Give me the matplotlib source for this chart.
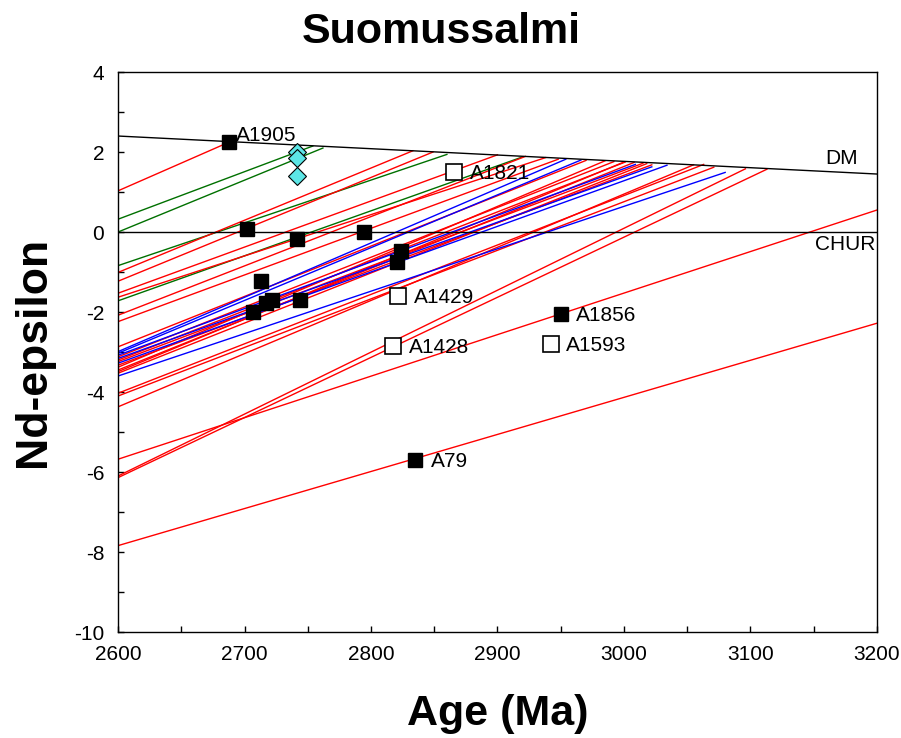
import numpy as np
import matplotlib
matplotlib.use("Agg")
import matplotlib.pyplot as plt
from matplotlib.ticker import MultipleLocator

plt.rcParams["font.family"] = ["Liberation Sans", "DejaVu Sans"]
plt.rcParams["axes.unicode_minus"] = False

# reference lines
dm_x = [2600, 3200]
dm_y = [2.40, 1.45]
chur_y = 0.0

# evolution lines: start at 2600 Ma, end on / near DM
red_y0 = [1.03, -1.01, -1.23, -1.53, -1.63, -2.08, -2.24, -2.87,
          -3.12, -3.20, -3.24, -3.33, -3.38, -3.45, -3.49, -3.53,
          -4.03, -4.10, -4.37, -5.68, -6.10, -6.14, -7.84]
red_x1 = [2688, 2833, 2849, 2900, 2938, 2922, 2948, 2970,
          2992, 3001, 3015, 3022, 2985, 3008, 3000, 3018,
          3063, 3071, 3055, 3200, 3096, 3113, 3200]
red_y1 = [2.25, 2.03, 2.00, 1.93, 1.86, 1.89, 1.82, 1.79,
          1.76, 1.75, 1.72, 1.68, 1.78, 1.74, 1.75, 1.71,
          1.69, 1.62, 1.68, 0.55, 1.58, 1.57, -2.28]

blue_y0 = [-2.99, -3.03, -3.08, -3.16, -3.28, -3.60]
blue_x1 = [2954, 2966, 3009, 3022, 3034, 3080]
blue_y1 = [1.82, 1.80, 1.69, 1.63, 1.67, 1.49]

green_y0 = [0.32, 0.00, -0.84, -1.72]
green_x1 = [2754, 2762, 2860, 2920]
green_y1 = [2.15, 2.10, 1.94, 1.88]

# samples
filled_x = [2688, 2702, 2741.5, 2794.5, 2713, 2707, 2717, 2722, 2743.6, 2823.7, 2820.8, 2950, 2835]
filled_y = [2.25, 0.08, -0.18, 0.01, -1.22, -2.00, -1.78, -1.70, -1.70, -0.47, -0.76, -2.06, -5.70]
open_x = [2866, 2821.6, 2817.6, 2942.3]
open_y = [1.49, -1.60, -2.84, -2.80]
diamond_x = [2741.5, 2741.5, 2741.5]
diamond_y = [2.01, 1.84, 1.40]

labels = ["A1905", "A1821", "A1429", "A1428", "A1856", "A1593", "A79"]
label_x = [2688, 2866, 2821.6, 2817.6, 2950, 2942.3, 2835]
label_y = [2.25, 1.49, -1.60, -2.84, -2.06, -2.80, -5.70]

fig = plt.figure(figsize=(9.01, 7.38), dpi=100)
ax = fig.add_axes([0.131, 0.1436, 0.8423, 0.7588])

for y0, x1, y1 in zip(green_y0, green_x1, green_y1):
    ax.plot([2600, x1], [y0, y1], color="#007000", lw=1)
for y0, x1, y1 in zip(red_y0, red_x1, red_y1):
    ax.plot([2600, x1], [y0, y1], color="#FF0000", lw=1)
for y0, x1, y1 in zip(blue_y0, blue_x1, blue_y1):
    ax.plot([2600, x1], [y0, y1], color="#0000FF", lw=1)

ax.plot(dm_x, dm_y, color="black", lw=1)
ax.axhline(chur_y, color="black", lw=1)

ax.plot(filled_x, filled_y, "s", color="black", ms=10, zorder=5)
ax.plot(open_x, open_y, "s", mfc="white", mec="black", mew=1.2, ms=11, zorder=5)
ax.plot(diamond_x, diamond_y, "D", mfc="#5CE6E6", mec="black", mew=0.8, ms=9, zorder=5)

for i, (t, x, y) in enumerate(zip(labels, label_x, label_y)):
    off = (5, 5) if i == 0 else (11, -1)
    ax.annotate(t, (x, y), xytext=off, textcoords="offset points",
                fontsize=15, va="center", ha="left")

ax.text(3185, 1.83, "DM", fontsize=15, ha="right", va="center")
ax.text(3199, -0.3, "CHUR", fontsize=15, ha="right", va="center")

ax.set_xlim(2600, 3200)
ax.set_ylim(-10, 4)
ax.xaxis.set_major_locator(MultipleLocator(100))
ax.xaxis.set_minor_locator(MultipleLocator(50))
ax.yaxis.set_major_locator(MultipleLocator(2))
ax.yaxis.set_minor_locator(MultipleLocator(1))
ax.tick_params(which="both", direction="in", top=False, right=False,
               length=4, width=1, labelsize=15)
ax.tick_params(axis="x", pad=9)
ax.tick_params(axis="y", pad=10)
for s in ax.spines.values():
    s.set_linewidth(1)

fig.text(0.4895, 0.957, "Suomussalmi", fontsize=31, fontweight="bold",
         ha="center", va="center")
ax.set_xlabel("Age (Ma)", fontsize=31, fontweight="bold", labelpad=22)
ax.set_ylabel("Nd-epsilon", fontsize=32, fontweight="bold", labelpad=14)

fig.savefig("out.png", dpi=100)
